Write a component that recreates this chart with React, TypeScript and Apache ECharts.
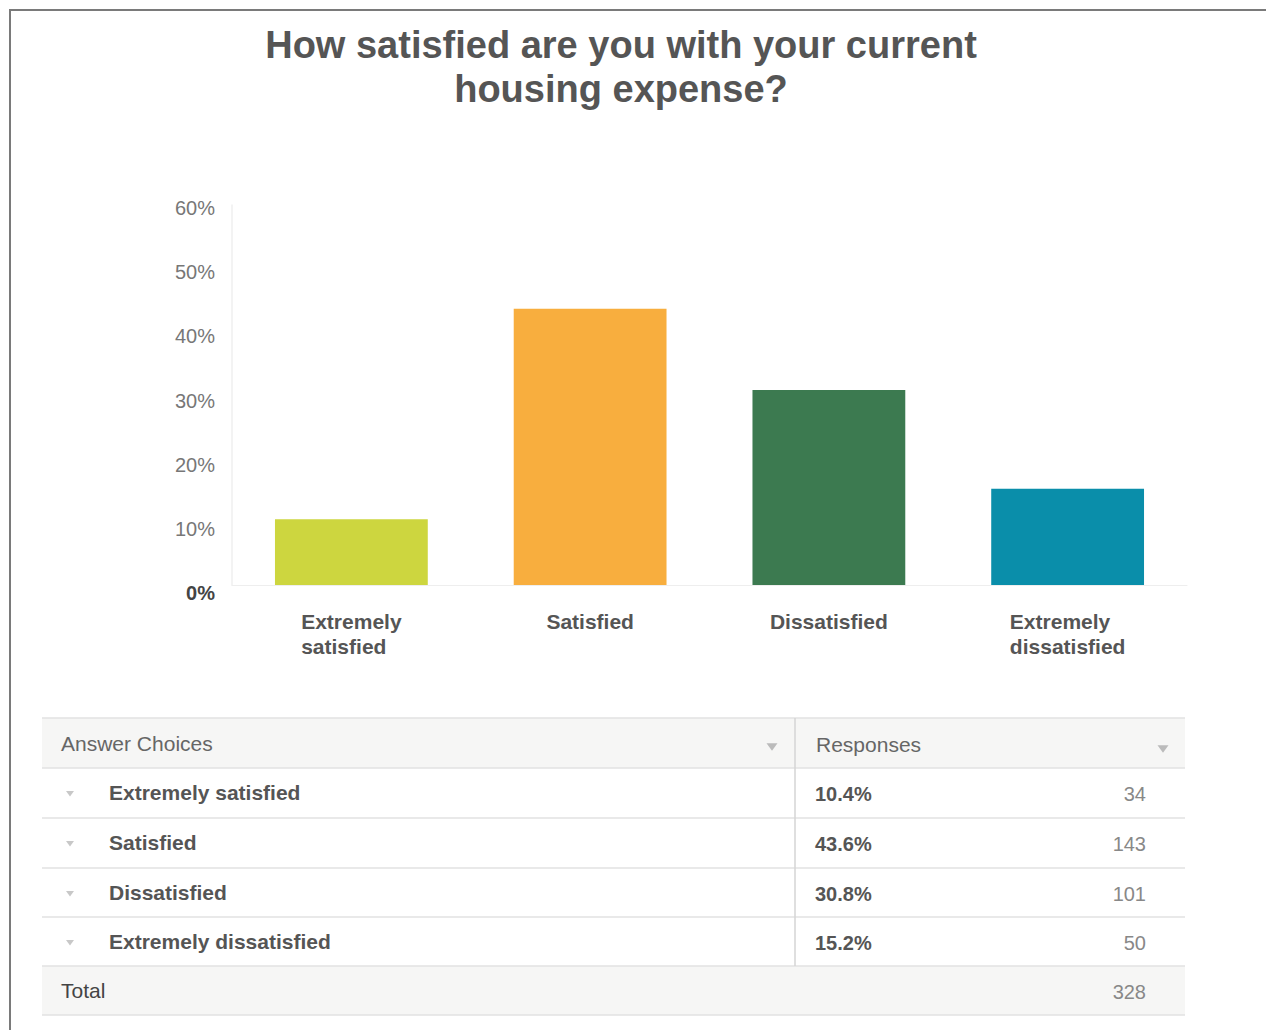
import React, { useEffect, useRef } from "react";
import * as echarts from "echarts";

const titleLines = ["How satisfied are you with your current", "housing expense?"];
const categories = ["Extremely satisfied", "Satisfied", "Dissatisfied", "Extremely dissatisfied"];
const percents = [10.4, 43.6, 30.8, 15.2];
const percentLabels = ["10.4%", "43.6%", "30.8%", "15.2%"];
const counts = [34, 143, 101, 50];
const totalCount = 328;
const barColors = ["#cdd63f", "#f8ae3e", "#3c7a50", "#0a8eaa"];
const yTicks = [0, 10, 20, 30, 40, 50, 60];
const headerLabels = ["Answer Choices", "Responses"];
const totalLabel = "Total";

const FONT = "'Liberation Sans', Arial, sans-serif";

export default function App() {
  const ref = useRef<HTMLDivElement>(null);
  useEffect(() => {
    if (!ref.current) return;
    const chart = echarts.init(ref.current, null, { renderer: "svg" });

    const tableLeft = 42;
    const tableRight = 1185;
    const divX = 795;
    const headerTop = 718;
    const rowH = 49.5;
    const rowTops = [768, 818, 868, 917];
    const totalTop = 966;
    const totalBottom = 1015;

    const graphics: any[] = [];
    graphics.push({ type: "line", shape: { x1: 9, y1: 10, x2: 1266, y2: 10 }, style: { stroke: "#7a7a7a", lineWidth: 2 } });
    graphics.push({ type: "line", shape: { x1: 10, y1: 9, x2: 10, y2: 1030 }, style: { stroke: "#7a7a7a", lineWidth: 2 } });

    titleLines.forEach((t, i) => {
      graphics.push({
        type: "text",
        x: 621,
        y: 45 + i * 44,
        style: { text: t, fill: "#555", font: `bold 38px ${FONT}`, textAlign: "center", textVerticalAlign: "middle" },
      });
    });

    graphics.push({ type: "rect", shape: { x: tableLeft, y: headerTop, width: tableRight - tableLeft, height: 50 }, style: { fill: "#f6f6f5" } });
    graphics.push({ type: "rect", shape: { x: tableLeft, y: totalTop, width: tableRight - tableLeft, height: totalBottom - totalTop }, style: { fill: "#f6f6f5" } });
    [headerTop, 768, 818, 868, 917, totalTop, totalBottom].forEach((y) => {
      graphics.push({ type: "line", shape: { x1: tableLeft, y1: y, x2: tableRight, y2: y }, style: { stroke: "#e2e2e2", lineWidth: 1.5 } });
    });
    graphics.push({ type: "line", shape: { x1: divX, y1: headerTop, x2: divX, y2: totalTop }, style: { stroke: "#d4d4d4", lineWidth: 1.5 } });

    graphics.push({ type: "text", x: 61, y: 743, style: { text: headerLabels[0], fill: "#666", font: `21px ${FONT}`, textVerticalAlign: "middle" } });
    graphics.push({ type: "text", x: 816, y: 744, style: { text: headerLabels[1], fill: "#666", font: `21px ${FONT}`, textVerticalAlign: "middle" } });
    const tri = (cx: number, cy: number, w: number, color: string) => ({
      type: "polygon",
      shape: { points: [[cx - w / 2, cy - w / 3], [cx + w / 2, cy - w / 3], [cx, cy + w / 3]] },
      style: { fill: color },
    });
    graphics.push(tri(772, 747, 11, "#bbb"));
    graphics.push(tri(1163, 749, 11, "#bbb"));

    categories.forEach((c, i) => {
      const cy = rowTops[i] + rowH / 2;
      graphics.push(tri(70, cy + 1, 8, "#c8c8c8"));
      graphics.push({ type: "text", x: 109, y: cy, style: { text: c, fill: "#555", font: `bold 21px ${FONT}`, textVerticalAlign: "middle" } });
      graphics.push({ type: "text", x: 815, y: cy + 1, style: { text: percentLabels[i], fill: "#555", font: `bold 20px ${FONT}`, textVerticalAlign: "middle" } });
      graphics.push({ type: "text", x: 1146, y: cy + 1, style: { text: String(counts[i]), fill: "#888", font: `20px ${FONT}`, textAlign: "right", textVerticalAlign: "middle" } });
    });
    graphics.push({ type: "text", x: 61, y: 990, style: { text: totalLabel, fill: "#444", font: `21px ${FONT}`, textVerticalAlign: "middle" } });
    graphics.push({ type: "text", x: 1146, y: 992, style: { text: String(totalCount), fill: "#888", font: `20px ${FONT}`, textAlign: "right", textVerticalAlign: "middle" } });

    chart.setOption({
      animation: false,
      backgroundColor: "#ffffff",
      grid: [
        { left: 232, right: 79, top: 205, bottom: 445, containLabel: false },
        { left: 232, right: 79, top: 208, bottom: 437, containLabel: false },
      ],
      xAxis: [
        {
          type: "category",
          gridIndex: 0,
          data: categories,
          axisLine: { show: true, lineStyle: { color: "#eeeeee", width: 1 } },
          axisTick: { show: false },
          axisLabel: {
            interval: 0,
            margin: 24,
            formatter: (v: string) =>
              v
                .replace("Extremely ", "Extremely\n")
                .split("\n")
                .map((l) => `{a|${l}}`)
                .join("\n"),
            rich: {
              a: { align: "left", fontFamily: FONT, fontWeight: "bold", fontSize: 21, color: "#555", lineHeight: 25 },
            },
          },
        },
        { type: "category", gridIndex: 1, data: categories, show: false },
      ],
      yAxis: [
        {
          type: "value",
          gridIndex: 0,
          min: yTicks[0],
          max: yTicks[yTicks.length - 1],
          interval: 10,
          axisLine: { show: true, lineStyle: { color: "#efefef", width: 1.5 } },
          axisTick: { show: false },
          splitLine: { show: false },
          axisLabel: { show: false },
        },
        {
          type: "value",
          gridIndex: 1,
          min: yTicks[0],
          max: yTicks[yTicks.length - 1],
          interval: 10,
          axisLine: { show: false },
          axisTick: { show: false },
          splitLine: { show: false },
          axisLabel: {
            margin: 17,
            formatter: (v: number) => (v === 0 ? `{z|${v}%}` : `{n|${v}%}`),
            rich: {
              n: { fontFamily: FONT, fontSize: 20, color: "#777" },
              z: { fontFamily: FONT, fontSize: 20, color: "#444", fontWeight: "bold" },
            },
          },
        },
      ],
      series: [
        {
          type: "bar",
          xAxisIndex: 0,
          yAxisIndex: 0,
          barWidth: "64%",
          data: percents.map((p, i) => ({ value: p, itemStyle: { color: barColors[i] } })),
        },
      ],
      graphic: graphics,
    });
    return () => chart.dispose();
  }, []);
  return <div ref={ref} style={{ position: "absolute", left: 0, top: 0, width: 1266, height: 1030 }} />;
}
